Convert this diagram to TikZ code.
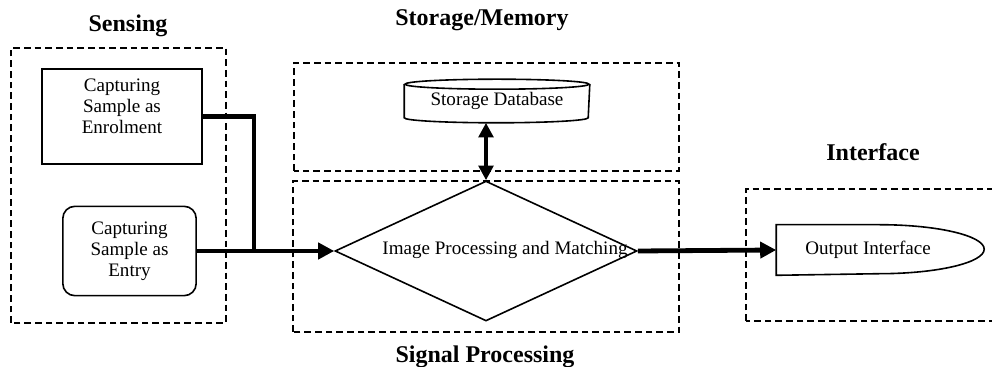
\documentclass[tikz,border=0pt]{standalone}
\usepackage{fontspec}
\setmainfont{Liberation Serif}
\usetikzlibrary{arrows.meta,shapes.geometric,calc}

\begin{document}
\begin{tikzpicture}[x=0.75pt,y=0.75pt,
    zone/.style={draw,line width=1.2pt,dash pattern=on 5pt off 3pt},
    heading/.style={font=\fontsize{18}{20}\selectfont\bfseries},
    stage/.style={line width=1.2pt,align=center,font=\fontsize{14.3}{15.75}\selectfont},
    flow/.style={line width=3.6pt,-{Triangle[length=12pt,width=12pt]}}]
  \useasboundingbox (0,0) rectangle (992,367);

  % dashed groups
  \draw[zone] (11,44) rectangle (226,319);
  \draw[zone] (294,196) rectangle (679,304);
  \draw[zone] (293,35) rectangle (679,186);
  \draw[zone] (746,46) rectangle (1000,178);

  \node[heading] (sensing) at (128,341) {Sensing};
  \node[heading] (storage) at (482,347) {Storage/Memory};
  \node[heading] (interface) at (873,215) {Interface};
  \node[heading] (signal) at (485,10) {Signal Processing};

  % blocks
  \node[stage,draw,minimum width=120pt,minimum height=71pt] (enrol) at (122,250.5) {Capturing\\Sample as\\Enrolment\\\mbox{}};
  \node[stage,draw,rounded corners=9pt,minimum width=100pt,minimum height=67pt] (entry) at (129.5,116) {Capturing\\Sample as\\Entry};
  \node[stage,draw,diamond,inner sep=0pt,minimum width=226.5pt,minimum height=105pt] (match) at (486,116) {};
  \node[stage] (matchtxt) at (505,117) {Image Processing and Matching};
  \node[stage,minimum width=138pt,minimum height=31.5pt] (db) at (497,266) {Storage Database};
  \node[stage,minimum width=136.5pt,minimum height=36.75pt] (out) at (868,117) {Output Interface};

  \draw[line width=1.2pt] ($(db.north)+(0,-5)$) ellipse[x radius=92,y radius=5];
  \draw[line width=1.2pt] ($(db.north west)+(0,-5)$) -- ($(db.south west)+(0,5)$)
    arc[start angle=180,end angle=360,x radius=92,y radius=5] -- ($(db.north east)+(0,-5)$);
  \draw[line width=1.2pt] (out.south west) -- (out.north west) -- ++(103,0)
    arc[start angle=90,end angle=-90,x radius=105,y radius=24.5] -- cycle;

  % connectors
  \coordinate (join) at (254,116);
  \draw[line width=3.6pt] (enrol.east) -| (join);
  \draw[flow] (entry.east) -- (match.west);
  \draw[flow] (match.east) -- (out.west);
  \draw[line width=3.6pt,{Triangle[length=11pt,width=11pt]}-{Triangle[length=11pt,width=11pt]}] (db.south -| match.north) -- (match.north);
\end{tikzpicture}
\end{document}
